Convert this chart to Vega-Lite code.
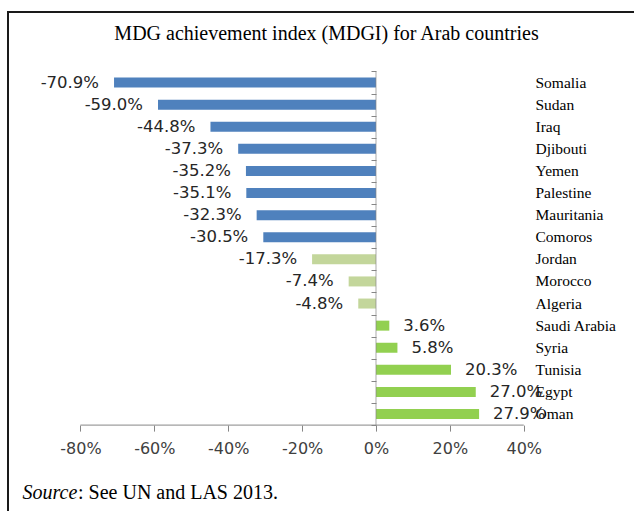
{
  "$schema": "https://vega.github.io/schema/vega-lite/v6.json",
  "width": 627,
  "height": 500,
  "autosize": {"type": "none"},
  "padding": {"left": 8, "top": 12, "right": 0, "bottom": 0},
  "background": "white",
  "config": {"view": {"stroke": "#1a1a1a", "strokeWidth": 2}},
  "title": {
    "text": "MDG achievement index (MDGI) for Arab countries",
    "font": "Liberation Serif",
    "fontSize": 20,
    "fontWeight": "normal",
    "color": "#000000",
    "anchor": "middle",
    "frame": "group",
    "baseline": "alphabetic",
    "offset": -48,
    "dx": 5
  },
  "data": {
    "values": [
      {"country": "Somalia", "value": -0.709, "group": "neg"},
      {"country": "Sudan", "value": -0.59, "group": "neg"},
      {"country": "Iraq", "value": -0.448, "group": "neg"},
      {"country": "Djibouti", "value": -0.373, "group": "neg"},
      {"country": "Yemen", "value": -0.352, "group": "neg"},
      {"country": "Palestine", "value": -0.351, "group": "neg"},
      {"country": "Mauritania", "value": -0.323, "group": "neg"},
      {"country": "Comoros", "value": -0.305, "group": "neg"},
      {"country": "Jordan", "value": -0.173, "group": "mid"},
      {"country": "Morocco", "value": -0.074, "group": "mid"},
      {"country": "Algeria", "value": -0.048, "group": "mid"},
      {"country": "Saudi Arabia", "value": 0.036, "group": "pos"},
      {"country": "Syria", "value": 0.058, "group": "pos"},
      {"country": "Tunisia", "value": 0.203, "group": "pos"},
      {"country": "Egypt", "value": 0.27, "group": "pos"},
      {"country": "Oman", "value": 0.279, "group": "pos"}
    ]
  },
  "transform": [
    {"calculate": "replace(format(datum.value, '.1%'), '\u2212', '-')", "as": "label"}
  ],
  "resolve": {"axis": {"y": "independent"}},
  "encoding": {
    "x": {
      "field": "value",
      "type": "quantitative",
      "scale": {"domain": [-0.996, 0.701], "nice": false},
      "axis": {
        "orient": "bottom",
        "values": [-0.8, -0.6, -0.4, -0.2, 0, 0.2, 0.4],
        "format": ".0%",
        "labelExpr": "replace(datum.label, '\u2212', '-')",
        "offset": -86.9,
        "domain": false,
        "grid": false,
        "ticks": true,
        "labels": true,
        "tickSize": 6,
        "tickColor": "#868686",
        "tickWidth": 1,
        "labelFont": "DejaVu Sans",
        "labelFontSize": 16,
        "labelColor": "#404040",
        "labelPadding": 9,
        "labelFlush": false,
        "title": "Source",
        "titleFontStyle": "italic",
        "titleX": 14,
        "titleY": 73,
        "titleAlign": "left",
        "titleBaseline": "alphabetic",
        "titleFont": "Liberation Serif",
        "titleFontSize": 20,
        "titleFontWeight": "normal",
        "titleColor": "#000000"
      }
    }
  },
  "layer": [
    {
      "mark": {"type": "bar", "size": 10},
      "encoding": {
        "y": {
          "field": "country",
          "type": "nominal",
          "sort": null,
          "scale": {
            "domain": ["_t1", "_t2", "Somalia", "Sudan", "Iraq", "Djibouti", "Yemen", "Palestine", "Mauritania", "Comoros", "Jordan", "Morocco", "Algeria", "Saudi Arabia", "Syria", "Tunisia", "Egypt", "Oman", "_b1", "_b2", "_b3"],
            "paddingInner": 0,
            "paddingOuter": 0.812,
            "align": 0.426
          },
          "axis": {
            "orient": "left",
            "offset": -368,
            "values": ["Somalia", "Sudan", "Iraq", "Djibouti", "Yemen", "Palestine", "Mauritania", "Comoros", "Jordan", "Morocco", "Algeria", "Saudi Arabia", "Syria", "Tunisia", "Egypt", "Oman"],
            "domain": false,
            "labels": false,
            "ticks": true,
            "tickBand": "extent",
            "tickSize": 5,
            "tickColor": "#868686",
            "tickWidth": 1,
            "grid": false,
            "title": ": See UN and LAS 2013.",
            "titleAngle": 0,
            "titleX": -298.5,
            "titleY": 486,
            "titleAlign": "left",
            "titleBaseline": "alphabetic",
            "titleFont": "Liberation Serif",
            "titleFontSize": 20,
            "titleFontWeight": "normal",
            "titleColor": "#000000"
          }
        },
        "color": {
          "field": "group",
          "type": "nominal",
          "scale": {"domain": ["neg", "mid", "pos"], "range": ["#4F81BD", "#C3D69B", "#92D050"]},
          "legend": null
        }
      }
    },
    {
      "mark": {"type": "tick", "orient": "vertical", "size": 22.1, "thickness": 1, "color": "#868686"},
      "encoding": {
        "x": {"datum": 0, "type": "quantitative"},
        "y": {"field": "country", "type": "nominal", "sort": null, "axis": null}
      }
    },
    {
      "transform": [{"filter": "datum.country === 'Oman'"}],
      "mark": {"type": "rule", "color": "#868686", "strokeWidth": 1},
      "encoding": {
        "x": {"datum": -0.8, "type": "quantitative"},
        "x2": {"datum": 0.4},
        "y": {"field": "country", "type": "nominal", "sort": null, "bandPosition": 1, "axis": null}
      }
    },
    {
      "transform": [{"filter": "datum.value < 0"}],
      "mark": {"type": "text", "align": "right", "baseline": "middle", "dx": -15, "font": "DejaVu Sans", "fontSize": 16.5, "color": "#262626"},
      "encoding": {
        "y": {
          "field": "country",
          "type": "nominal",
          "sort": null,
          "axis": {
            "orient": "right",
            "offset": -100,
            "values": ["Somalia", "Sudan", "Iraq", "Djibouti", "Yemen", "Palestine", "Mauritania", "Comoros", "Jordan", "Morocco", "Algeria", "Saudi Arabia", "Syria", "Tunisia", "Egypt", "Oman"],
            "domain": false,
            "ticks": false,
            "tickSize": 0,
            "labelPadding": 0,
            "labelAlign": "left",
            "labelBaseline": "middle",
            "labelFont": "Liberation Serif",
            "labelFontSize": 15.5,
            "labelColor": "#000000",
            "labelLimit": 0,
            "grid": false,
            "title": null
          }
        },
        "text": {"field": "label"}
      }
    },
    {
      "transform": [{"filter": "datum.value > 0"}],
      "mark": {"type": "text", "align": "left", "baseline": "middle", "dx": 14, "font": "DejaVu Sans", "fontSize": 16.5, "color": "#262626"},
      "encoding": {
        "y": {"field": "country", "type": "nominal", "sort": null, "axis": null},
        "text": {"field": "label"}
      }
    }
  ]
}
